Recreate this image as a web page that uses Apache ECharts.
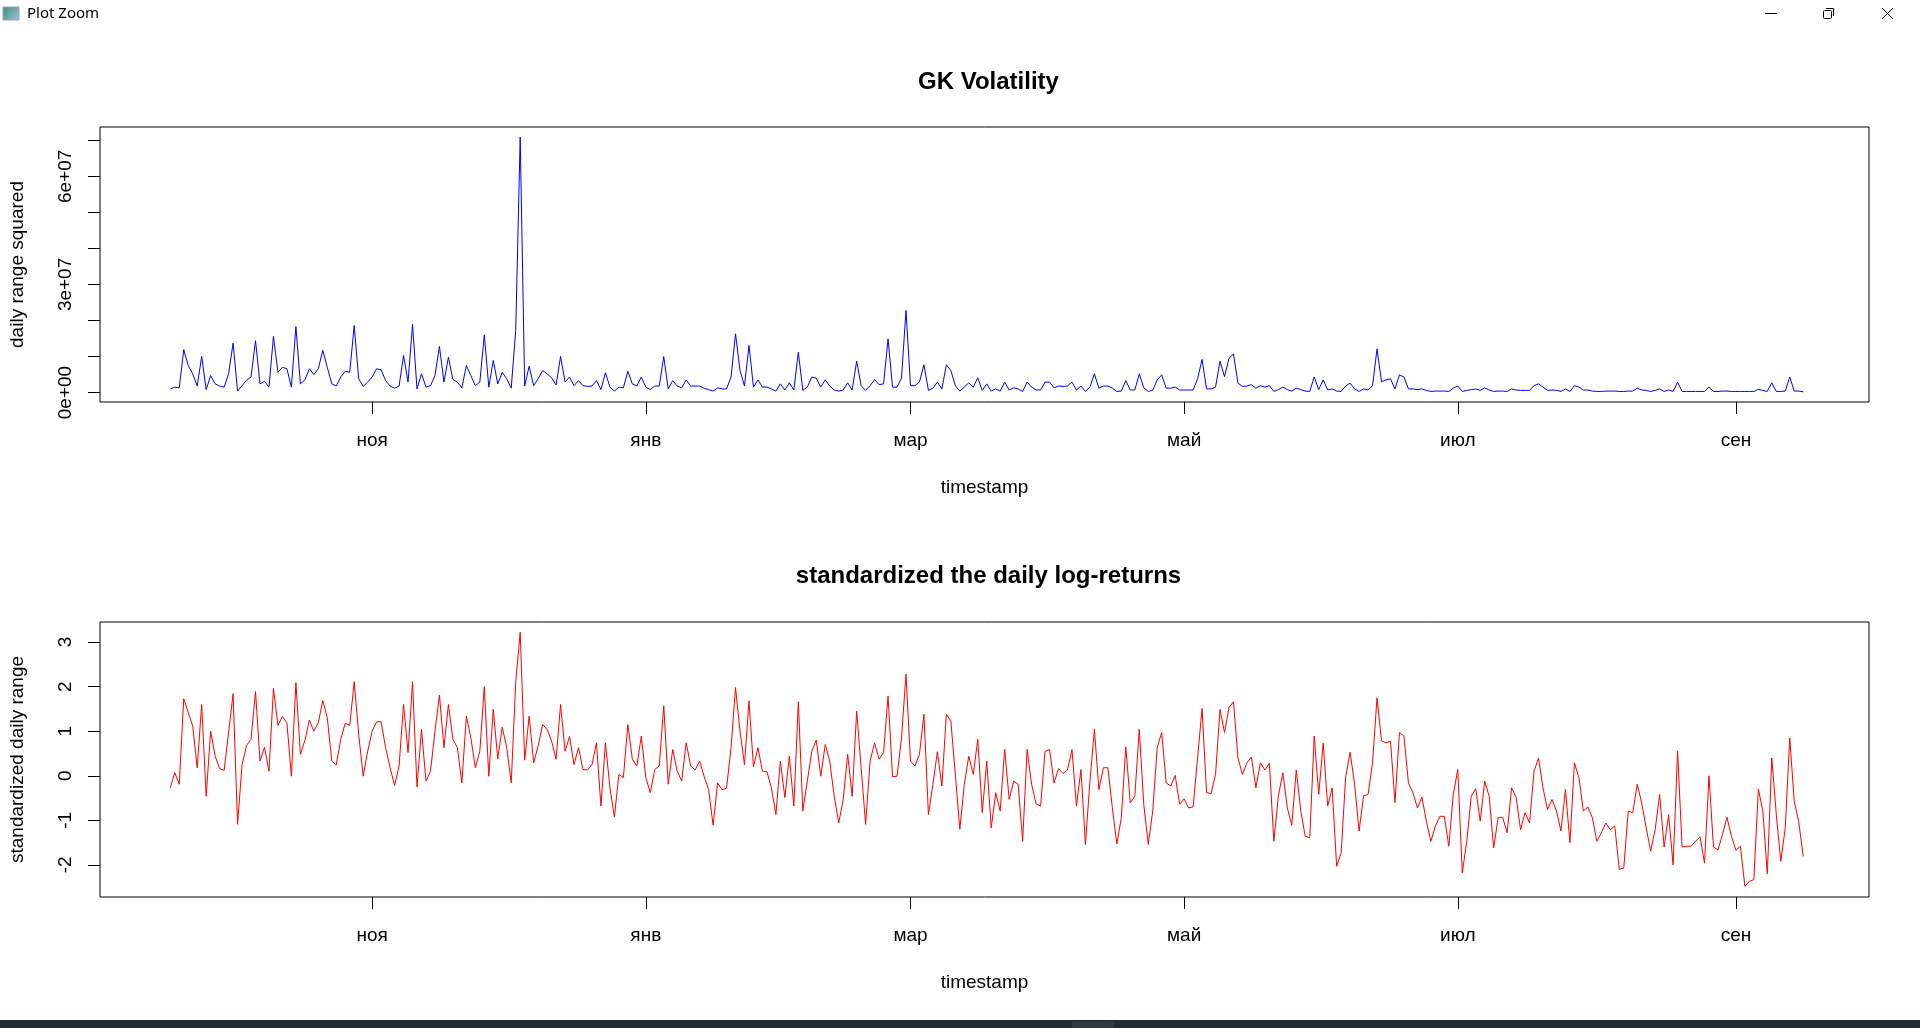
<!DOCTYPE html>
<html>
<head>
<meta charset="utf-8">
<title>GK Volatility</title>
<script src="https://cdn.jsdelivr.net/npm/echarts@6/dist/echarts.min.js"></script>
<style>
  html, body { margin: 0; padding: 0; background: #fff; }
  #chart { width: 1920px; height: 1028px; }
</style>
</head>
<body>
<div id="chart"></div>
<script>
// daily series, first observation 2022-09-17, one value per day
const firstDay = [2022, 8, 17];

// GK volatility (daily range squared), in millions
const gkVolMillions = [
  1.0, 1.5, 1.3, 11.9, 7.5, 5.2, 1.8, 10.0, 0.8, 4.7,
  2.4, 1.8, 1.5, 5.2, 13.7, 0.4, 1.9, 3.4, 4.3, 14.4,
  2.4, 3.1, 1.5, 15.6, 5.6, 7.0, 6.6, 1.5, 18.3, 2.4,
  3.5, 6.6, 5.0, 6.6, 11.7, 7.0, 2.4, 1.8, 4.3, 5.9,
  5.6, 18.6, 3.8, 1.7, 2.9, 4.3, 6.6, 6.3, 3.3, 1.8,
  1.2, 1.8, 10.3, 2.9, 18.9, 1.0, 5.2, 1.5, 1.9, 4.7,
  12.8, 2.9, 9.8, 3.6, 2.9, 1.3, 7.5, 4.7, 1.9, 2.9,
  16.0, 1.5, 8.9, 2.4, 5.6, 3.8, 1.2, 17.2, 70.9, 1.8,
  7.3, 1.9, 3.8, 6.1, 5.2, 4.1, 2.1, 10.0, 2.9, 4.3,
  1.9, 3.3, 1.9, 1.7, 1.8, 3.3, 0.8, 5.5, 1.5, 0.4,
  1.5, 1.3, 5.9, 2.4, 1.8, 4.3, 1.5, 0.8, 1.8, 1.8,
  10.0, 1.0, 3.3, 1.8, 1.3, 3.5, 1.8, 1.8, 1.8, 1.2,
  0.8, 0.4, 1.3, 1.0, 1.0, 4.3, 16.3, 6.1, 1.8, 13.1,
  1.5, 3.5, 1.5, 1.5, 1.0, 0.4, 2.4, 0.7, 2.7, 0.7,
  11.2, 0.6, 1.5, 4.3, 4.0, 1.5, 3.5, 1.8, 0.7, 0.4,
  0.7, 2.7, 0.7, 8.7, 1.9, 0.6, 1.9, 3.6, 2.2, 2.4,
  14.9, 1.5, 1.5, 4.0, 22.8, 1.9, 1.9, 2.9, 7.7, 0.6,
  1.2, 2.9, 1.0, 7.7, 6.1, 1.9, 0.4, 1.5, 2.7, 1.5,
  4.1, 0.6, 2.4, 0.4, 1.0, 0.4, 2.9, 0.7, 1.3, 1.0,
  0.3, 2.9, 1.5, 0.7, 0.7, 2.9, 2.9, 1.3, 1.8, 1.7,
  1.8, 2.9, 0.7, 1.8, 0.3, 1.5, 5.2, 1.2, 1.8, 1.8,
  1.2, 0.3, 0.4, 3.3, 0.7, 0.7, 5.2, 1.3, 0.3, 0.6,
  3.5, 4.9, 1.2, 1.2, 1.5, 0.7, 0.7, 0.7, 0.7, 3.8,
  9.2, 1.0, 1.0, 1.5, 8.7, 4.4, 9.5, 10.7, 2.6, 1.7,
  1.8, 2.2, 1.2, 1.9, 1.5, 1.9, 0.3, 0.8, 1.5, 0.8,
  0.4, 1.2, 0.8, 0.4, 0.3, 4.3, 0.8, 3.5, 0.7, 1.0,
  0.4, 0.3, 1.8, 2.6, 1.0, 0.3, 1.0, 0.7, 1.9, 12.1,
  3.0, 3.5, 3.8, 1.0, 4.9, 4.3, 1.0, 1.0, 0.8, 1.0,
  0.6, 0.3, 0.4, 0.4, 0.4, 0.3, 1.2, 1.8, 0.3, 0.6,
  0.8, 1.0, 0.6, 1.3, 0.7, 0.3, 0.4, 0.4, 0.3, 1.0,
  0.7, 0.6, 0.6, 0.6, 1.9, 2.4, 1.5, 0.6, 0.7, 0.6,
  0.3, 1.0, 0.3, 1.9, 1.5, 0.7, 0.7, 0.4, 0.3, 0.3,
  0.4, 0.4, 0.4, 0.3, 0.3, 0.4, 0.4, 1.2, 0.7, 0.6,
  0.3, 0.6, 1.0, 0.3, 0.7, 0.3, 2.9, 0.3, 0.3, 0.3,
  0.3, 0.3, 0.3, 1.5, 0.3, 0.3, 0.4, 0.4, 0.3, 0.3,
  0.3, 0.3, 0.3, 0.3, 0.9, 0.6, 0.3, 2.7, 0.3, 0.3,
  0.4, 4.3, 0.4, 0.4, 0.2
];

// standardized daily range
const stdDailyRange = [
  -0.27, 0.07, -0.19, 1.73, 1.42, 1.12, 0.18, 1.60, -0.46, 1.00,
  0.44, 0.16, 0.12, 0.97, 1.84, -1.09, 0.25, 0.68, 0.82, 1.89,
  0.33, 0.64, 0.10, 1.96, 1.13, 1.33, 1.19, -0.01, 2.09, 0.48,
  0.79, 1.25, 1.00, 1.19, 1.69, 1.30, 0.33, 0.24, 0.82, 1.18,
  1.13, 2.11, 0.93, -0.01, 0.55, 1.00, 1.21, 1.21, 0.63, 0.18,
  -0.22, 0.22, 1.60, 0.52, 2.11, -0.25, 1.04, -0.12, 0.10, 1.00,
  1.81, 0.63, 1.60, 0.82, 0.63, -0.16, 1.34, 0.85, 0.18, 0.55,
  2.00, -0.01, 1.49, 0.38, 1.09, 0.63, -0.16, 2.10, 3.22, 0.35,
  1.34, 0.29, 0.67, 1.15, 1.04, 0.78, 0.37, 1.60, 0.55, 0.88,
  0.25, 0.63, 0.14, 0.13, 0.25, 0.74, -0.68, 0.74, -0.27, -0.92,
  0.03, -0.04, 1.15, 0.37, 0.22, 0.89, -0.04, -0.38, 0.14, 0.22,
  1.57, -0.19, 0.59, 0.10, -0.12, 0.74, 0.22, 0.13, 0.33, -0.01,
  -0.31, -1.11, -0.16, -0.31, -0.28, 0.63, 1.98, 1.00, 0.25, 1.68,
  0.20, 0.63, 0.10, 0.09, -0.27, -0.87, 0.33, -0.49, 0.44, -0.68,
  1.66, -0.79, -0.12, 0.55, 0.80, -0.01, 0.70, 0.33, -0.46, -1.06,
  -0.53, 0.48, -0.46, 1.45, 0.18, -1.09, 0.33, 0.74, 0.37, 0.52,
  1.79, -0.02, -0.01, 0.85, 2.28, 0.33, 0.22, 0.48, 1.38, -0.87,
  -0.19, 0.54, -0.23, 1.38, 1.23, 0.03, -1.20, -0.19, 0.44, 0.03,
  0.82, -0.83, 0.33, -1.17, -0.38, -0.79, 0.59, -0.53, -0.12, -0.19,
  -1.47, 0.59, -0.19, -0.63, -0.68, 0.55, 0.59, -0.16, 0.16, 0.05,
  0.13, 0.59, -0.68, 0.14, -1.54, -0.12, 1.04, -0.31, 0.18, 0.18,
  -0.72, -1.53, -0.94, 0.65, -0.61, -0.46, 1.04, -0.64, -1.54, -0.79,
  0.63, 0.97, -0.16, -0.23, 0.01, -0.64, -0.52, -0.72, -0.70, 0.40,
  1.51, -0.38, -0.40, 0.03, 1.49, 0.97, 1.53, 1.66, 0.40, 0.03,
  0.29, 0.42, -0.27, 0.29, 0.13, 0.28, -1.47, -0.46, 0.07, -0.72,
  -1.11, 0.13, -0.79, -1.36, -1.39, 0.89, -0.42, 0.73, -0.68, -0.27,
  -2.03, -1.73, -0.04, 0.53, -0.19, -1.24, -0.45, -0.42, 0.30, 1.75,
  0.78, 0.74, 0.78, -0.60, 0.97, 0.89, -0.16, -0.38, -0.72, -0.48,
  -1.02, -1.47, -1.13, -0.91, -0.91, -1.58, -0.42, 0.14, -2.18, -1.47,
  -0.46, -0.29, -1.02, -0.12, -0.46, -1.62, -0.94, -0.93, -1.28, -0.27,
  -0.48, -1.21, -0.83, -1.06, 0.10, 0.40, -0.27, -0.76, -0.53, -0.79,
  -1.24, -0.31, -1.50, 0.29, -0.04, -0.79, -0.70, -0.94, -1.47, -1.28,
  -1.06, -1.21, -1.13, -2.10, -2.07, -0.79, -0.83, -0.19, -0.61, -1.17,
  -1.69, -1.21, -0.42, -1.60, -0.87, -2.00, 0.55, -1.60, -1.58, -1.58,
  -1.47, -1.37, -1.96, 0.00, -1.60, -1.66, -1.32, -0.93, -1.36, -1.67,
  -1.58, -2.48, -2.37, -2.33, -0.30, -0.79, -2.20, 0.40, -0.87, -1.92,
  -1.17, 0.85, -0.57, -1.03, -1.81
];

const monthTicks = ['2022-11-01', '2023-01-01', '2023-03-01', '2023-05-01', '2023-07-01', '2023-09-01'];
const monthLabels = ['ноя', 'янв', 'мар', 'май', 'июл', 'сен'];

const volTicks = [0, 10, 20, 30, 40, 50, 60, 70];
const volLabelTicks = [0, 30, 60];
const volLabels = ['0e+00', '3e+07', '6e+07'];
const stdTicks = [-2, -1, 0, 1, 2, 3];

const FONT = 'Liberation Sans, Arial, sans-serif';

const days = gkVolMillions.map((_, i) => Date.UTC(firstDay[0], firstDay[1], firstDay[2] + i));
const tickTimes = monthTicks.map(s => new Date(s + 'T00:00:00Z').getTime());
const xMin = Date.UTC(2022, 8, 1, 8);
const xMax = Date.UTC(2023, 8, 30, 16);

// timestamps on a plain value axis, so ticks can sit exactly on month starts
function xAxisFor(gridIndex) {
  return {
    type: 'value',
    gridIndex: gridIndex,
    min: xMin,
    max: xMax,
    name: 'timestamp',
    nameLocation: 'middle',
    nameGap: 76,
    nameTextStyle: { color: '#000', fontSize: 19, fontFamily: FONT },
    axisLine: { show: false, onZero: false },
    splitLine: { show: false },
    axisTick: {
      show: true,
      customValues: tickTimes,
      length: 12,
      lineStyle: { color: '#000', width: 1 }
    },
    axisLabel: {
      customValues: tickTimes,
      margin: 29,
      color: '#000',
      fontSize: 19,
      fontFamily: FONT,
      formatter: function (v) {
        const k = tickTimes.indexOf(v);
        return k >= 0 ? monthLabels[k] : '';
      }
    }
  };
}

const chart = echarts.init(document.getElementById('chart'));

chart.setOption({
  animation: false,
  backgroundColor: '#fff',
  title: [
    {
      text: 'GK Volatility',
      left: 983.5,
      top: 65,
      textAlign: 'center',
      textStyle: { color: '#000', fontSize: 24, fontWeight: 'bold', fontFamily: FONT }
    },
    {
      text: 'standardized the daily log-returns',
      left: 983.5,
      top: 559,
      textAlign: 'center',
      textStyle: { color: '#000', fontSize: 24, fontWeight: 'bold', fontFamily: FONT }
    }
  ],
  grid: [
    { left: 98, top: 127, width: 1771, height: 275, show: true, borderColor: '#000', borderWidth: 1, backgroundColor: 'transparent' },
    { left: 98, top: 622, width: 1771, height: 275, show: true, borderColor: '#000', borderWidth: 1, backgroundColor: 'transparent' }
  ],
  xAxis: [xAxisFor(0), xAxisFor(1)],
  yAxis: [
    {
      type: 'value',
      gridIndex: 0,
      min: -2.63,
      max: 73.7,
      name: 'daily range squared',
      nameLocation: 'middle',
      nameGap: 73,
      nameTextStyle: { color: '#000', fontSize: 19, fontFamily: FONT },
      axisLine: { show: false, onZero: false },
      splitLine: { show: false },
      axisTick: { show: true, customValues: volTicks, length: 12, lineStyle: { color: '#000', width: 1 } },
      axisLabel: {
        customValues: volLabelTicks,
        rotate: 90,
        margin: 25,
        color: '#000',
        fontSize: 19,
        fontFamily: FONT,
        formatter: function (v) {
          const k = volLabelTicks.indexOf(v);
          return k >= 0 ? volLabels[k] : '';
        }
      }
    },
    {
      type: 'value',
      gridIndex: 1,
      min: -2.72,
      max: 3.45,
      name: 'standardized daily range',
      nameLocation: 'middle',
      nameGap: 73,
      nameTextStyle: { color: '#000', fontSize: 19, fontFamily: FONT },
      axisLine: { show: false, onZero: false },
      splitLine: { show: false },
      axisTick: { show: true, customValues: stdTicks, length: 12, lineStyle: { color: '#000', width: 1 } },
      axisLabel: {
        customValues: stdTicks,
        rotate: 90,
        margin: 25,
        color: '#000',
        fontSize: 19,
        fontFamily: FONT,
        formatter: function (v) { return String(v); }
      }
    }
  ],
  series: [
    {
      type: 'line',
      xAxisIndex: 0,
      yAxisIndex: 0,
      data: days.map((t, i) => [t, gkVolMillions[i]]),
      showSymbol: false,
      silent: true,
      lineStyle: { color: '#0000ff', width: 1 }
    },
    {
      type: 'line',
      xAxisIndex: 1,
      yAxisIndex: 1,
      data: days.map((t, i) => [t, stdDailyRange[i]]),
      showSymbol: false,
      silent: true,
      lineStyle: { color: '#ff0000', width: 1 }
    }
  ],
  // window frame of the plot viewer
  graphic: [
    {
      type: 'rect',
      shape: { x: 3, y: 7, width: 16, height: 13 },
      style: {
        fill: new echarts.graphic.LinearGradient(0, 0, 1, 1, [
          { offset: 0, color: '#3f8f7a' },
          { offset: 1, color: '#9fc4d8' }
        ]),
        stroke: '#9aa3aa',
        lineWidth: 1
      }
    },
    {
      type: 'text',
      left: 27,
      top: 6,
      style: { text: 'Plot Zoom', fill: '#000', font: '15px "Noto Sans", sans-serif' }
    },
    {
      type: 'line',
      shape: { x1: 1765, y1: 13.5, x2: 1777, y2: 13.5 },
      style: { stroke: '#000', lineWidth: 1 }
    },
    {
      type: 'rect',
      shape: { x: 1823.5, y: 10.5, width: 8, height: 8, r: 1 },
      style: { fill: 'none', stroke: '#000', lineWidth: 1 }
    },
    {
      type: 'polyline',
      shape: { points: [[1826, 8.5], [1833.5, 8.5], [1833.5, 16]] },
      style: { fill: 'none', stroke: '#000', lineWidth: 1 }
    },
    {
      type: 'line',
      shape: { x1: 1882, y1: 8, x2: 1893, y2: 19 },
      style: { stroke: '#000', lineWidth: 1 }
    },
    {
      type: 'line',
      shape: { x1: 1893, y1: 8, x2: 1882, y2: 19 },
      style: { stroke: '#000', lineWidth: 1 }
    },
    {
      type: 'rect',
      shape: { x: 0, y: 1020, width: 1920, height: 8 },
      style: { fill: '#1f2a33' }
    },
    {
      type: 'rect',
      shape: { x: 1072, y: 1021, width: 42, height: 7 },
      style: { fill: '#2e3a44' }
    }
  ]
});
</script>
</body>
</html>
